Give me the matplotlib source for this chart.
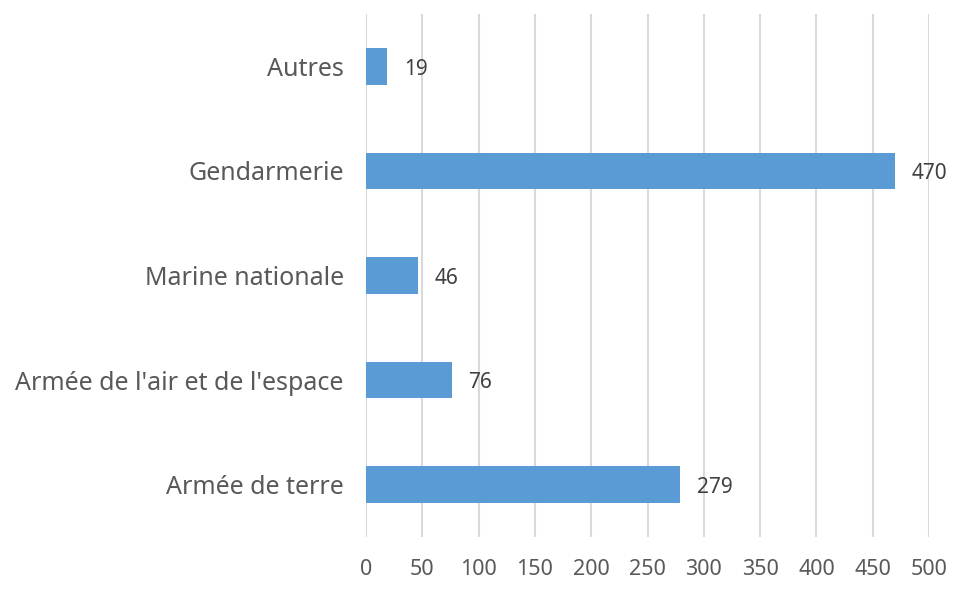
import matplotlib

matplotlib.use("Agg")
import matplotlib.pyplot as plt

categories = ["Armée de terre", "Armée de l'air et de l'espace", "Marine nationale", "Gendarmerie", "Autres"]
values = [279, 76, 46, 470, 19]
x_ticks = [0, 50, 100, 150, 200, 250, 300, 350, 400, 450, 500]

BAR_COLOR = "#5B9BD5"
GRID_COLOR = "#D9D9D9"
LABEL_COLOR = "#595959"
VALUE_COLOR = "#404040"


def main():
    fig = plt.figure(figsize=(9.62, 5.91), dpi=100)
    ax = fig.add_axes([0.3805, 0.0914, 0.5852, 0.8849])

    y = list(range(len(categories)))
    ax.barh(y, values, height=0.35, color=BAR_COLOR, zorder=3)

    # value labels just right of each bar
    for yi, v in zip(y, values):
        ax.annotate(str(v), xy=(v, yi), xytext=(12, -2), textcoords="offset points",
                    ha="left", va="center", fontsize=15, color=VALUE_COLOR,
                    family=["Noto Sans", "DejaVu Sans"])

    ax.set_xlim(0, 500)
    ax.set_ylim(-0.5, len(categories) - 0.5)
    ax.set_xticks(x_ticks)
    ax.set_yticks(y)
    ax.set_yticklabels(categories)

    ax.grid(True, axis="x", color=GRID_COLOR, linewidth=1.5, zorder=0)
    ax.grid(False, axis="y")
    for spine in ax.spines.values():
        spine.set_visible(False)

    ax.tick_params(axis="both", length=0, labelcolor=LABEL_COLOR)
    ax.tick_params(axis="y", pad=16, labelsize=18)
    ax.tick_params(axis="x", pad=16, labelsize=15.5)
    for lbl in ax.get_xticklabels() + ax.get_yticklabels():
        lbl.set_family(["Noto Sans", "DejaVu Sans"])

    fig.savefig("out.png", dpi=100)
    plt.close(fig)


if __name__ == "__main__":
    main()
